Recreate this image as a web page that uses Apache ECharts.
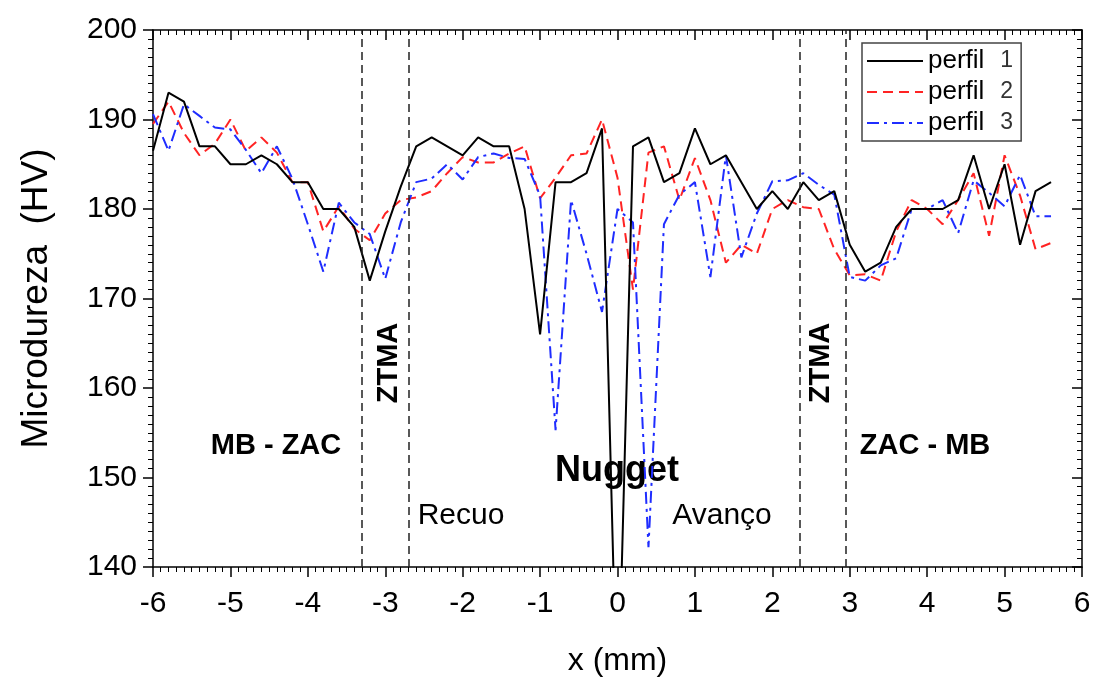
<!DOCTYPE html>
<html>
<head>
<meta charset="utf-8">
<script src="https://cdn.jsdelivr.net/npm/echarts@6/dist/echarts.min.js"></script>
<style>
html,body{margin:0;padding:0;background:#fff;}
#chart{width:1097px;height:682px;}
</style>
</head>
<body>
<div id="chart"></div>
<script>
// ---- data ----
const xPositions = [-6.0,-5.8,-5.6,-5.4,-5.2,-5.0,-4.8,-4.6,-4.4,-4.2,-4.0,-3.8,-3.6,-3.4,-3.2,-3.0,-2.8,-2.6,-2.4,-2.2,-2.0,-1.8,-1.6,-1.4,-1.2,-1.0,-0.8,-0.6,-0.4,-0.2,0.0,0.2,0.4,0.6,0.8,1.0,1.2,1.4,1.6,1.8,2.0,2.2,2.4,2.6,2.8,3.0,3.2,3.4,3.6,3.8,4.0,4.2,4.4,4.6,4.8,5.0,5.2,5.4,5.6];
const perfil1 = [186.5,193,192,187,187,185,185,186,185,183,183,180,180,178,172,177.5,182.5,187,188,187,186,188,187,187,180,166,183,183,184,189,122,187,188,183,184,189,185,186,183,180,182,180,183,181,182,176,173,174,178,180,180,180,181,186,180,185,176,182,183];
const perfil2 = [189.5,192,188.5,186,187.3,190,186.5,188,186.3,183,183,177.5,180.3,177.8,176.5,179.5,181,181.3,182,184,185.8,185.2,185.2,186.2,187,181.2,183.5,186,186.2,190,183.5,171,186.3,187,181,185.7,181,174,176,175,180,181,180.2,180,175.5,172.6,172.7,172,177.5,181,180,178.3,181,184,177,186,181.5,175.5,176.2];
const perfil3 = [190.6,186.5,191.7,190.4,189.1,188.9,186.6,184,187,183.4,178.3,173,180.7,178.5,177.2,172.2,178.5,183,183.4,185,183.3,185.8,186.2,185.7,185.6,181.5,155.3,181,175,168.5,180,178.5,142.2,178.3,181.6,183,172.4,186,174.6,179.5,183.1,183.2,184,182.7,181.6,172.4,172,173.7,174.5,180,180,181,177.3,183.2,181.8,180.3,183.8,179.2,179.2];
const seriesNames = ['perfil 1','perfil 2','perfil 3'];
const zoneBoundaries = [-3.3, -2.7, 2.35, 2.95];
const xTicks = {min:-6, max:6, step:1};
const yTicks = {min:140, max:200, step:10};

const pair = (ys) => xPositions.map((x,i)=>[x, ys[i]]);

const chart = echarts.init(document.getElementById('chart'), null, {renderer:'canvas'});
const FONT = 'Liberation Sans, Arial, sans-serif';
const axisLineStyle = {color:'#000', width:1.5};

const baseX = {
  type:'value', min:xTicks.min, max:xTicks.max, interval:xTicks.step,
  splitLine:{show:false},
  axisLine:{show:true, onZero:false, lineStyle:axisLineStyle},
  minorTick:{show:true, splitNumber:10, length:5, lineStyle:{color:'#000', width:1}},
  axisTick:{show:true, length:10, lineStyle:{color:'#000', width:1.5}}
};
const baseY = {
  type:'value', min:yTicks.min, max:yTicks.max, interval:yTicks.step,
  splitLine:{show:false},
  axisLine:{show:true, onZero:false, lineStyle:axisLineStyle},
  minorTick:{show:true, splitNumber:10, length:5, lineStyle:{color:'#000', width:1}},
  axisTick:{show:true, length:10, lineStyle:{color:'#000', width:1.5}}
};

const option = {
  backgroundColor:'#fff',
  animation:false,
  grid:{left:153, right:15, top:30, bottom:109, containLabel:false},
  legend:{
    show:true, orient:'vertical', left:862, top:43,
    data:seriesNames,
    itemWidth:56, itemHeight:14, itemGap:5,
    itemStyle:{opacity:0},
    backgroundColor:'#fff', borderColor:'#444', borderWidth:1.5, borderRadius:0,
    padding:[5,8,5,4],
    formatter:(n)=>'{a|perfil}{b|' + n.split(' ')[1] + '}',
    textStyle:{
      rich:{
        a:{fontFamily:FONT, fontSize:26, color:'#000'},
        b:{fontFamily:FONT, fontSize:23, color:'#333', padding:[0,0,0,16]}
      }
    }
  },
  xAxis:[
    Object.assign({}, baseX, {
      position:'bottom',
      axisLabel:{show:true, color:'#000', fontSize:30, fontFamily:FONT, margin:22},
      name:'x (mm)', nameLocation:'middle', nameGap:78,
      nameTextStyle:{color:'#000', fontSize:32, fontFamily:FONT}
    }),
    Object.assign({}, baseX, {
      position:'top',
      axisLabel:{show:false},
      axisTick:{show:true, inside:true, length:10, lineStyle:{color:'#000', width:1.5}}
    })
  ],
  yAxis:[
    Object.assign({}, baseY, {
      position:'left',
      axisLabel:{show:true, color:'#000', fontSize:30, fontFamily:FONT, margin:16},
      name:'Microdureza  (HV)', nameLocation:'middle', nameGap:98,
      nameTextStyle:{color:'#000', fontSize:37, fontFamily:FONT}
    }),
    Object.assign({}, baseY, {
      position:'right',
      axisLabel:{show:false},
      axisTick:{show:true, inside:true, length:10, lineStyle:{color:'#000', width:1.5}}
    })
  ],
  series:[
    {
      name:seriesNames[0], type:'line', data:pair(perfil1), xAxisIndex:0, yAxisIndex:0,
      symbol:'none', showSymbol:false, clip:true, z:3,
      lineStyle:{color:'#000', width:2, type:'solid'},
      itemStyle:{color:'#000'},
      markLine:{
        silent:true, symbol:['none','none'],
        label:{show:false},
        lineStyle:{color:'#222', width:1.5, type:[8,5]},
        data:zoneBoundaries.map(v=>({xAxis:v}))
      }
    },
    {
      name:seriesNames[1], type:'line', data:pair(perfil2), xAxisIndex:0, yAxisIndex:0,
      symbol:'none', showSymbol:false, clip:true, z:2,
      lineStyle:{color:'#ff2323', width:2, type:[10,6]},
      itemStyle:{color:'#ff2323'}
    },
    {
      name:seriesNames[2], type:'line', data:pair(perfil3), xAxisIndex:0, yAxisIndex:0,
      symbol:'none', showSymbol:false, clip:true, z:2,
      lineStyle:{color:'#1f2dff', width:2, type:[12,5,3,5]},
      itemStyle:{color:'#1f2dff'}
    }
  ],
  graphic:[
    {type:'text', position:[276,446], style:{text:'MB - ZAC', font:'bold 29px '+FONT, fill:'#000', textAlign:'center', textVerticalAlign:'middle'}},
    {type:'text', position:[389,363], rotation:Math.PI/2, style:{text:'ZTMA', font:'bold 29px '+FONT, fill:'#000', textAlign:'center', textVerticalAlign:'middle'}},
    {type:'text', position:[821,363], rotation:Math.PI/2, style:{text:'ZTMA', font:'bold 29px '+FONT, fill:'#000', textAlign:'center', textVerticalAlign:'middle'}},
    {type:'text', position:[617,471], style:{text:'Nugget', font:'bold 36px '+FONT, fill:'#000', textAlign:'center', textVerticalAlign:'middle'}},
    {type:'text', position:[461,516], style:{text:'Recuo', font:'30px '+FONT, fill:'#000', textAlign:'center', textVerticalAlign:'middle'}},
    {type:'text', position:[722,516], style:{text:'Avanço', font:'30px '+FONT, fill:'#000', textAlign:'center', textVerticalAlign:'middle'}},
    {type:'text', position:[925,446], style:{text:'ZAC - MB', font:'bold 29px '+FONT, fill:'#000', textAlign:'center', textVerticalAlign:'middle'}}
  ]
};
chart.setOption(option);
</script>
</body>
</html>
